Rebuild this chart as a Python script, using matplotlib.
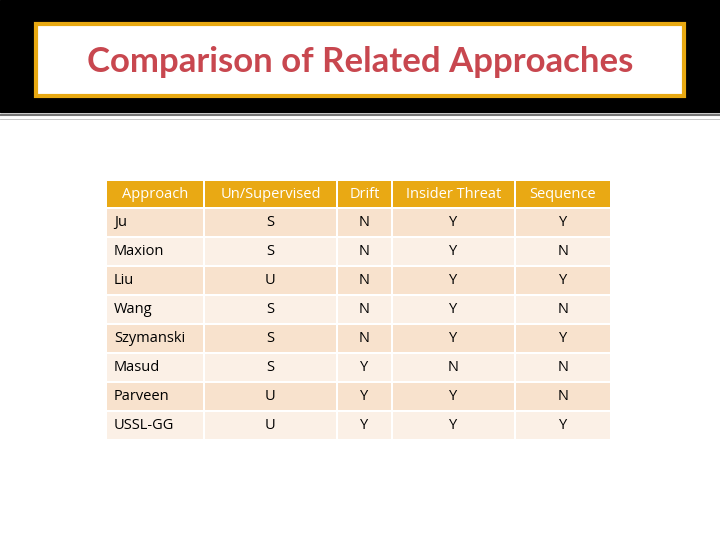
import matplotlib
matplotlib.use("Agg")
import matplotlib.pyplot as plt
from matplotlib.patches import Rectangle

title = "Comparison of Related Approaches"
columns = ["Approach", "Un/Supervised", "Drift", "Insider Threat", "Sequence"]
approaches = ["Ju", "Maxion", "Liu", "Wang", "Szymanski", "Masud", "Parveen", "USSL-GG"]
supervised = ["S", "S", "U", "S", "S", "S", "U", "U"]
drift = ["N", "N", "N", "N", "N", "Y", "Y", "Y"]
insider = ["Y", "Y", "Y", "Y", "Y", "N", "Y", "Y"]
sequence = ["Y", "N", "Y", "N", "Y", "N", "N", "Y"]

fig = plt.figure(figsize=(7.2, 5.4), dpi=100)
ax = fig.add_axes([0, 0, 1, 1])
ax.set_xlim(0, 720); ax.set_ylim(540, 0); ax.axis("off")
fnt = "Open Sans"

ax.add_patch(Rectangle((0, 0), 720, 112, color="black"))
ax.add_patch(Rectangle((36, 24), 648, 72, facecolor="white", edgecolor="#E8A912", linewidth=3))
ax.text(360, 62, title, ha="center", va="center", fontsize=25, fontweight="bold",
        color="#C8474F", family="Lato")
ax.plot([0, 720], [115, 115], color="#777777", lw=1.5)
ax.plot([0, 720], [118.5, 118.5], color="#bbbbbb", lw=0.6)

xs = [107, 205, 338, 393, 516, 612]
hy0, hy1 = 181, 207
for i, c in enumerate(columns):
    ax.add_patch(Rectangle((xs[i], hy0), xs[i+1]-xs[i]-2, hy1-hy0, color="#E9A914", lw=0))
    ax.text((xs[i]+xs[i+1]-2)/2, (hy0+hy1)/2, c, ha="center", va="center",
            fontsize=10.5, color="white", family=fnt)
rows = list(zip(approaches, supervised, drift, insider, sequence))
rh = 29
for r, row in enumerate(rows):
    y0 = 209 + r*rh
    col = "#F8E2CD" if r % 2 == 0 else "#FBF0E6"
    for i, v in enumerate(row):
        ax.add_patch(Rectangle((xs[i], y0), xs[i+1]-xs[i]-2, rh-2, color=col, lw=0))
        if i == 0:
            ax.text(xs[i]+7, y0+(rh-2)/2, v, ha="left", va="center", fontsize=10.5,
                    color="black", family=fnt)
        else:
            ax.text((xs[i]+xs[i+1]-2)/2, y0+(rh-2)/2, v, ha="center", va="center",
                    fontsize=10.5, color="black", family=fnt)
fig.savefig("out.png", dpi=100)
